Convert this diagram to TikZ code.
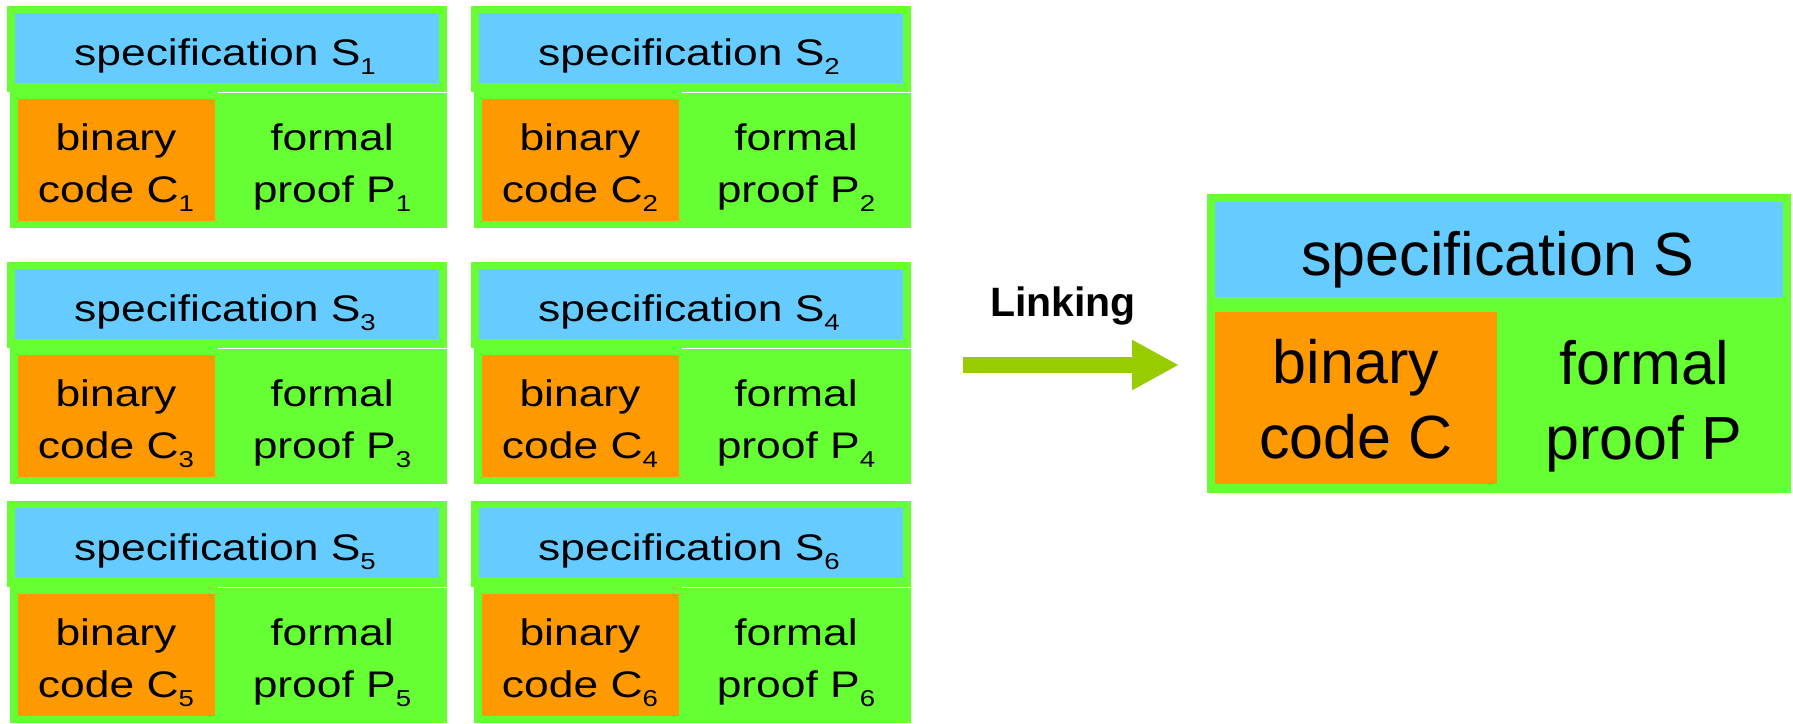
\documentclass[tikz,border=0pt]{standalone}
\usepackage{fontspec}
\setmainfont{Liberation Sans}
\newfontfamily\smallboxfont[FakeStretch=1.2]{Liberation Sans}
\usetikzlibrary{arrows.meta}

\definecolor{boxgreen}{HTML}{66FF33}
\definecolor{specblue}{HTML}{66CCFF}
\definecolor{codeorange}{HTML}{FF9900}
\definecolor{linkgreen}{HTML}{99CC00}

\newcommand{\idx}[1]{\raisebox{-9pt}{\fontsize{23}{23}\selectfont #1}}

\tikzset{
    smalltext/.style={inner sep=0pt, align=center, anchor=base,
        font=\smallboxfont\fontsize{37}{52}\selectfont},
    bigtext/.style={inner sep=0pt, align=center, anchor=base,
        font=\fontsize{61}{75}\selectfont},
    linkarrow/.style={linkgreen, line width=16pt,
        -{Triangle[length=47pt,width=47pt]}}
}

\begin{document}
\begin{tikzpicture}[x=1pt,y=-1pt]
    \useasboundingbox (0,0) rectangle (1793,723);
    % the six small modules
    \foreach \i/\x/\y in {1/7/6, 2/471/6, 3/7/262, 4/471/262, 5/7/501, 6/471/501} {
        \begin{scope}[shift={(\x,\y)}]
            \fill[boxgreen] (0,0) rectangle (440,86); % top strip
            \fill[specblue] (8,7) rectangle (432,77);
            \fill[boxgreen] (3,86) rectangle (211,222); % bottom left
            \fill[codeorange] (11,93) rectangle (208,215);
            \fill[boxgreen] (211,87) rectangle (440,222); % bottom right
            \node[smalltext] (spec\i) at (218,59) {specification S\idx{\i}};
            \node[smalltext] (code\i) at (109,196) {binary\\code C\idx{\i}};
            \node[smalltext] (proof\i) at (325,196) {formal\\proof P\idx{\i}};
        \end{scope}
    }
    % linking arrow
    \node[anchor=base, inner sep=0pt, font=\bfseries\fontsize{41}{41}\selectfont]
        (linking) at (1063,316) {Linking};
    \coordinate (linkstart) at (963,365);
    \coordinate (linkend) at (1179,365);
    \draw[linkarrow] (linkstart) -- (linkend);
    % the linked module
    \fill[boxgreen] (1207,194) rectangle (1791,493);
    \fill[specblue] (1215,202) rectangle (1783,297);
    \fill[codeorange] (1215,312) rectangle (1497,484);
    \node[bigtext] (spec) at (1498,275) {specification S};
    \node[bigtext] (code) at (1356,458) {binary\\code C};
    \node[bigtext] (proof) at (1644,459) {formal\\proof P};
\end{tikzpicture}
\end{document}
